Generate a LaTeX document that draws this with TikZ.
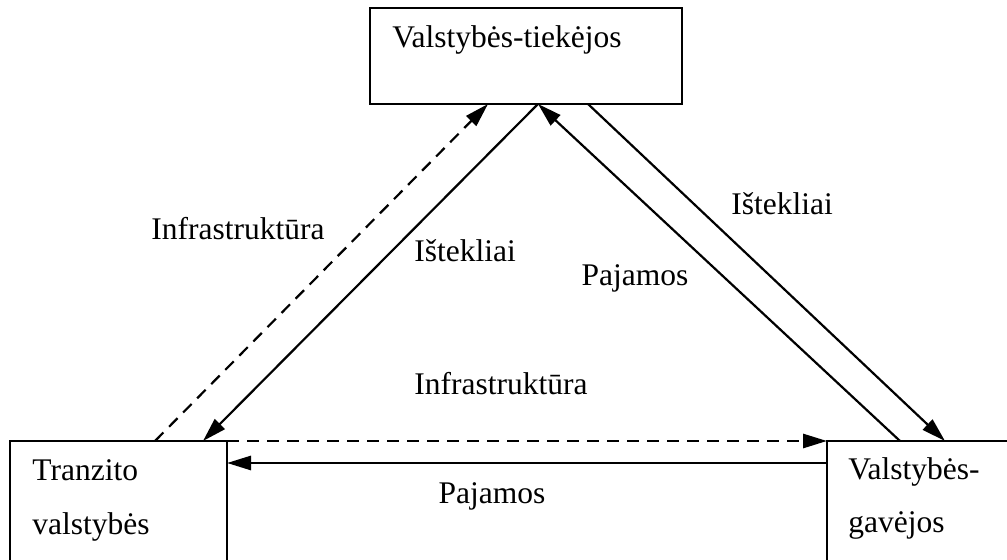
\documentclass[tikz,border=0pt]{standalone}
\usepackage{fontspec}
\setmainfont{Liberation Serif}
\usepackage{tikz}
\usetikzlibrary{calc,arrows.meta}

\tikzset{
  box/.style={draw, line width=1pt, inner sep=0pt, outer sep=0pt},
  txt/.style={font=\fontsize{15.75}{27}\selectfont, inner sep=0pt, anchor=base},
  boxtxt/.style={txt, anchor=base west, align=left},
  flow/.style={line width=1.1pt, -{Triangle[length=12pt,width=7pt]}},
  flowdash/.style={flow, dash pattern=on 6pt off 4pt}
}

\begin{document}
\begin{tikzpicture}[x=0.5pt,y=-0.5pt]
    \useasboundingbox (0,0) rectangle (1007,560);
    \node (tiek) at (526,56)  [box, minimum width=156pt, minimum height=48pt] {};
    \node (tranz) at (118.5,520.5)  [box, minimum width=108.5pt, minimum height=79.5pt] {};
    \node (gav) at (919.5,520.5)  [box, minimum width=92.5pt, minimum height=79.5pt] {};
    \node (tiektxt) at ([xshift=11pt,yshift=-20pt]tiek.north west) [boxtxt] {Valstybės-tiekėjos};
    \node (tranztxt) at ([xshift=11pt,yshift=-20pt]tranz.north west) [boxtxt] {Tranzito};
    \node (tranztxtb) at ([xshift=11pt,yshift=-47pt]tranz.north west) [boxtxt] {valstybės};
    \node (gavtxt) at ([xshift=10.5pt,yshift=-19.5pt]gav.north west) [boxtxt] {Valstybės-};
    \node (gavtxtb) at ([xshift=10.5pt,yshift=-46pt]gav.north west) [boxtxt] {gavėjos};
    \coordinate (tiekA) at ([xshift=59pt]tiek.south west);
    \coordinate (tiekB) at ([xshift=84pt]tiek.south west);
    \coordinate (tiekC) at ([xshift=109pt]tiek.south west);
    \coordinate (tranzA) at ([xshift=72.5pt]tranz.north west);
    \coordinate (tranzB) at ([xshift=96.5pt]tranz.north west);
    \coordinate (tranzC) at ([yshift=-11pt]tranz.north east);
    \coordinate (gavA) at ([xshift=36.5pt]gav.north west);
    \coordinate (gavB) at ([xshift=59pt]gav.north west);
    \coordinate (gavC) at ([yshift=-11pt]gav.north west);
    \draw[flowdash] (tranzA) to (tiekA);
    \draw[flow] (tiekB) to (tranzB);
    \draw[flow] (gavA) to (tiekB);
    \draw[flow] (tiekC) to (gavB);
    \draw[flowdash, line width=1.4pt] (tranz.north east) to (gav.north west);
    \draw[flow, line width=1.4pt] (gavC) to (tranzC);
    \node (infraL) at (238,240) [txt] {Infrastruktūra};
    \node (istekL) at (465,262) [txt] {Ištekliai};
    \node (pajamR) at (635,286) [txt] {Pajamos};
    \node (istekR) at (782,215) [txt] {Ištekliai};
    \node (infraB) at (501,395) [txt] {Infrastruktūra};
    \node (pajamB) at (492,504) [txt] {Pajamos};
  \end{tikzpicture}
\end{document}
